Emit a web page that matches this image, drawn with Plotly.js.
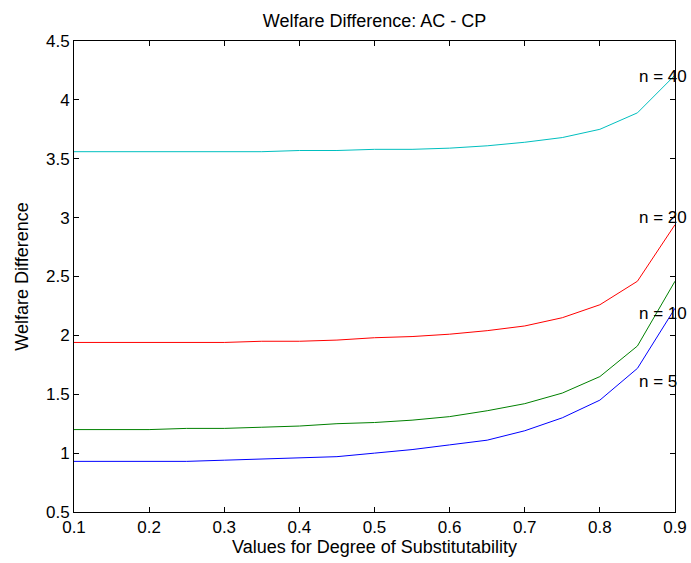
<!DOCTYPE html>
<html>
<head>
<meta charset="utf-8">
<script src="https://cdn.plot.ly/plotly-3.0.1.min.js"></script>
<style>html,body{margin:0;padding:0;background:#fff;}#chart{width:691px;height:563px;}</style>
</head>
<body>
<div id="chart"></div>
<script>
const xVals = [0.1,0.15,0.2,0.25,0.3,0.35,0.4,0.45,0.5,0.55,0.6,0.65,0.7,0.75,0.8,0.85,0.9];
const n5  = [0.93,0.93,0.93,0.93,0.94,0.95,0.96,0.97,1.00,1.03,1.07,1.11,1.19,1.30,1.45,1.72,2.23];
const n10 = [1.20,1.20,1.20,1.21,1.21,1.22,1.23,1.25,1.26,1.28,1.31,1.36,1.42,1.51,1.65,1.91,2.46];
const n20 = [1.94,1.94,1.94,1.94,1.94,1.95,1.95,1.96,1.98,1.99,2.01,2.04,2.08,2.15,2.26,2.46,2.94];
const n40 = [3.56,3.56,3.56,3.56,3.56,3.56,3.57,3.57,3.58,3.58,3.59,3.61,3.64,3.68,3.75,3.89,4.21];
const labels = ["n = 5","n = 10","n = 20","n = 40"];
const labelX = [0.85,0.85,0.85,0.85];
const labelY = [1.61,2.19,3.0,4.2];
const colors = ["#0000ff","#008000","#ff0000","#00bfbf"];
const series = [n5,n10,n20,n40];
const FONT = 'Liberation Sans, Arial, sans-serif';

const traces = series.map((s,i)=>({x:xVals,y:s,type:'scatter',mode:'lines',line:{color:colors[i],width:1},showlegend:false,hoverinfo:'none'}));
const annotations = labels.map((t,i)=>({x:labelX[i],y:labelY[i],xref:'x',yref:'y',text:t,showarrow:false,xanchor:'left',yanchor:'middle',font:{family:FONT,size:17,color:'#000'}}));

const axisCommon = {showline:true,mirror:'ticks',linecolor:'#000',linewidth:1,ticks:'inside',ticklen:5,tickcolor:'#000',showgrid:false,zeroline:false,tickfont:{family:FONT,size:17,color:'#000'}};
const layout = {
  width:691,height:563,
  margin:{l:74,r:16,t:41,b:51},
  paper_bgcolor:'#fff',plot_bgcolor:'#fff',
  title:{text:'Welfare Difference: AC - CP',xref:'paper',x:0.5,xanchor:'center',yref:'container',y:0.964,yanchor:'middle',font:{family:FONT,size:18,color:'#000'}},
  xaxis:Object.assign({},axisCommon,{range:[0.1,0.9],tickvals:[0.1,0.2,0.3,0.4,0.5,0.6,0.7,0.8,0.9],ticktext:['0.1','0.2','0.3','0.4','0.5','0.6','0.7','0.8','0.9'],title:{text:'Values for Degree of Substitutability',standoff:2,font:{family:FONT,size:18,color:'#000'}}}),
  yaxis:Object.assign({},axisCommon,{range:[0.5,4.5],tickvals:[0.5,1,1.5,2,2.5,3,3.5,4,4.5],ticktext:['0.5','1','1.5','2','2.5','3','3.5','4','4.5'],title:{text:'Welfare Difference',standoff:12,font:{family:FONT,size:18,color:'#000'}}}),
  annotations:annotations
};
Plotly.newPlot('chart',traces,layout,{staticPlot:true,displayModeBar:false});
</script>
</body>
</html>
